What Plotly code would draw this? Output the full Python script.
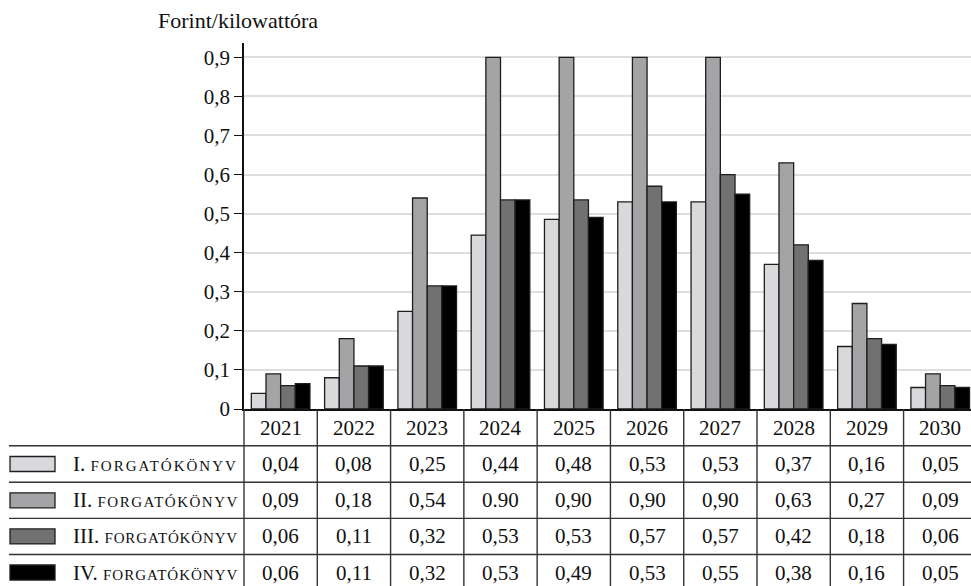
import plotly.graph_objects as go

years = ["2021", "2022", "2023", "2024", "2025", "2026", "2027", "2028", "2029", "2030"]
series_numerals = ["I.", "II.", "III.", "IV."]
series_word = "FORGATÓKÖNYV"

# bar heights as drawn
s1 = [0.04, 0.08, 0.25, 0.445, 0.485, 0.53, 0.53, 0.37, 0.16, 0.055]
s2 = [0.09, 0.18, 0.54, 0.90, 0.90, 0.90, 0.90, 0.63, 0.27, 0.09]
s3 = [0.06, 0.11, 0.315, 0.535, 0.535, 0.57, 0.60, 0.42, 0.18, 0.06]
s4 = [0.065, 0.11, 0.315, 0.535, 0.49, 0.53, 0.55, 0.38, 0.165, 0.055]

# table text as printed
t1 = ["0,04", "0,08", "0,25", "0,44", "0,48", "0,53", "0,53", "0,37", "0,16", "0,05"]
t2 = ["0,09", "0,18", "0,54", "0.90", "0,90", "0,90", "0,90", "0,63", "0,27", "0,09"]
t3 = ["0,06", "0,11", "0,32", "0,53", "0,53", "0,57", "0,57", "0,42", "0,18", "0,06"]
t4 = ["0,06", "0,11", "0,32", "0,53", "0,49", "0,53", "0,55", "0,38", "0,16", "0,05"]

y_tickvals = [0, 0.1, 0.2, 0.3, 0.4, 0.5, 0.6, 0.7, 0.8, 0.9]
y_ticktext = ["0", "0,1", "0,2", "0,3", "0,4", "0,5", "0,6", "0,7", "0,8", "0,9"]

colors = ["#d9d9db", "#a4a4a6", "#717171", "#000000"]
label_spacing = [2.0, 1.5, 0.85, 1.0]  # px letter spacing per row label (justified look)
FONT = "Liberation Serif"
FS = 21

W_FIG, H_FIG = 971, 586
L, T = 244, 43
PW, PH = 727, 366


def px(xp):
    return (xp - L) / PW


def py(yp):
    return (T + PH - yp) / PH


fig = go.Figure()
xs = list(range(len(years)))
for num, vals, col in zip(series_numerals, [s1, s2, s3, s4], colors):
    fig.add_trace(go.Bar(
        x=xs, y=vals, name=num + " " + series_word.lower(),
        marker=dict(color=col, line=dict(color="#1e1e1e", width=1.3)),
        showlegend=False,
    ))

shapes = []
annotations = []

line_col = "#333333"
row_lines = [445.7, 482.2, 518.4, 554.5]
for yl in row_lines:
    shapes.append(dict(type="line", xref="paper", yref="paper",
                       x0=px(9), x1=1.0, y0=py(yl), y1=py(yl),
                       line=dict(color=line_col, width=1.4)))
shapes.append(dict(type="line", xref="paper", yref="paper",
                   x0=0, x1=0, y0=0, y1=py(600),
                   line=dict(color=line_col, width=1.4)))
for i in range(1, len(years) + 1):
    shapes.append(dict(type="line", xref="x", yref="paper",
                       x0=i - 0.5, x1=i - 0.5, y0=0, y1=py(600),
                       line=dict(color=line_col, width=1.4)))

header_c = 427.5
for i, yr in enumerate(years):
    annotations.append(dict(x=i, y=py(header_c), xref="x", yref="paper",
                            text=yr, showarrow=False, xanchor="center", yanchor="middle",
                            font=dict(family=FONT, size=FS, color="#111")))

row_centers = [464.0, 500.3, 536.4, 572.5]
for k, (num, texts, col) in enumerate(zip(series_numerals, [t1, t2, t3, t4], colors)):
    yc = row_centers[k]
    for i, tx in enumerate(texts):
        annotations.append(dict(x=i, y=py(yc), xref="x", yref="paper",
                                text=tx, showarrow=False, xanchor="center", yanchor="middle",
                                font=dict(family=FONT, size=FS, color="#111")))
    shapes.append(dict(type="rect", xref="paper", yref="paper",
                       x0=px(10), x1=px(55), y0=py(yc - 7.5), y1=py(yc + 7.5),
                       fillcolor=col, line=dict(color="#1e1e1e", width=1.3)))
    label = (num + " <span style='font-size:15px;letter-spacing:%.2fpx'>" % label_spacing[k]
             + series_word + "</span>")
    annotations.append(dict(x=px(71), y=py(yc), xref="paper", yref="paper",
                            text=label, showarrow=False, xanchor="left", yanchor="middle",
                            font=dict(family=FONT, size=FS, color="#111")))

annotations.append(dict(x=px(156), y=py(21), xref="paper", yref="paper",
                        text="Forint/kilowattóra", showarrow=False,
                        xanchor="left", yanchor="middle",
                        font=dict(family=FONT, size=22, color="#111")))

fig.update_layout(
    width=W_FIG, height=H_FIG,
    margin=dict(l=L, r=W_FIG - L - PW, t=T, b=H_FIG - T - PH, pad=0),
    paper_bgcolor="white", plot_bgcolor="white",
    barmode="group", bargap=0.2, bargroupgap=0,
    font=dict(family=FONT, size=FS, color="#111"),
    shapes=shapes, annotations=annotations,
    xaxis=dict(range=[-0.5, 9.42], showticklabels=False, ticks="",
               showgrid=False, zeroline=False,
               showline=True, linecolor="#111", linewidth=1.5, fixedrange=True),
    yaxis=dict(range=[0, 0.9366], tickvals=y_tickvals, ticktext=y_ticktext,
               ticks="outside", ticklen=8, tickwidth=1.3, tickcolor="#111",
               showgrid=True, gridcolor="#dedede", gridwidth=1.5,
               zeroline=False, showline=True, linecolor="#111", linewidth=1.5,
               tickfont=dict(family=FONT, size=FS, color="#111"), fixedrange=True),
)

fig.write_html("out.html",
               config={"displayModeBar": False},
               post_script="document.body.style.margin='0';document.body.style.padding='0';"
                           "document.documentElement.style.overflow='hidden';")
